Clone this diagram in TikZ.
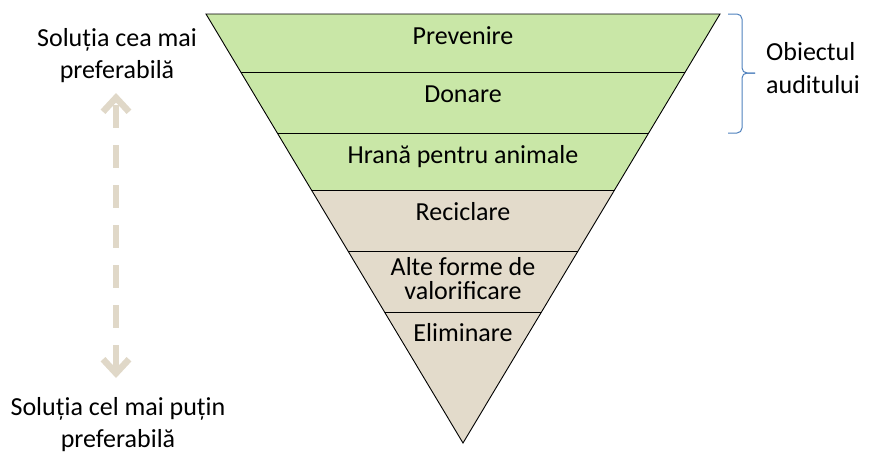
\documentclass[tikz,border=0pt]{standalone}
\usepackage{fontspec}
\setmainfont{Carlito}
\usetikzlibrary{arrows.meta}

\definecolor{bandgreen}{RGB}{201,231,167}
\definecolor{bandtan}{RGB}{227,219,203}
\definecolor{arrowtan}{RGB}{224,216,200}
\definecolor{braceblue}{RGB}{79,129,189}

\tikzset{
	label/.style={font=\fontsize{26}{32}\selectfont, anchor=base, inner sep=0pt},
	sep/.style={line width=0.9pt},
	updown/.style={arrowtan, line width=6.5pt, dash pattern=on 23pt off 17pt, dash phase=36pt,
		{Straight Barb[length=14pt,width=26pt]}-{Straight Barb[length=14pt,width=26pt]}},
	curly/.style={braceblue, line width=1pt, rounded corners=5pt}
}

\begin{document}
\begin{tikzpicture}[x=1pt,y=-1pt]
	\useasboundingbox (0,0) rectangle (870,455);
	
	\def\topy{14};
	\def\apexy{443};
	\def\midx{463};
	\def\halfw{257};
	
	\def\cuty{190};
	
	\pgfmathparse{\midx-\halfw}
	\edef\xl{\pgfmathresult}
	
	\pgfmathparse{\midx+\halfw}
	\edef\xr{\pgfmathresult}
	
	\coordinate (tl) at (\xl,\topy);
	\coordinate (tr) at (\xr,\topy);
	\coordinate (apex) at (\midx,\apexy);
	
	\begin{scope}
		\clip (tl) -- (tr) -- (apex) -- cycle;
		\fill[bandgreen] (0,\topy) rectangle (870,\cuty);
		\fill[bandtan] (0,\cuty) rectangle (870,\apexy);
		\foreach \y in {72.7,133,\cuty,251,312}
			\draw[sep] (0,\y) -- (870,\y);
	\end{scope}
	\draw[sep, line join=miter] (tl) -- (tr) -- (apex) -- cycle;
	
	% multi-line nodes sit on the baseline of their last line
	\node[label] (prevenire) at (\midx,44) {Prevenire};
	\node[label] (donare) at (\midx,102.7) {Donare};
	\node[label] (hrana) at (\midx,163.3) {Hrană pentru animale};
	\node[label] (reciclare) at (\midx,220) {Reciclare};
	\node[label, align=center, font=\fontsize{26}{24}\selectfont] (alte) at (\midx,299) {Alte forme de\\valorificare};
	\node[label] (eliminare) at (\midx,341.7) {Eliminare};
	
	\node[label, align=center] (best) at (117,78) {Soluția cea mai\\preferabilă};
	\node[label, align=center] (worst) at (118,447) {Soluția cel mai puțin\\preferabilă};
	
	\coordinate (up) at (116,93);
	\coordinate (down) at (116,378);
	\draw[updown] (up) -- (down);
	
	\draw[curly] (728,14) -- (742,14) -- (742,73) -- (755,73);
	\draw[curly] (755,73) -- (742,73) -- (742,133) -- (728,133);
	\node[label, align=left, anchor=base west, font=\fontsize{26}{33}\selectfont] (obiect) at (766,93) {Obiectul\\auditului};
	
\end{tikzpicture}
\end{document}
